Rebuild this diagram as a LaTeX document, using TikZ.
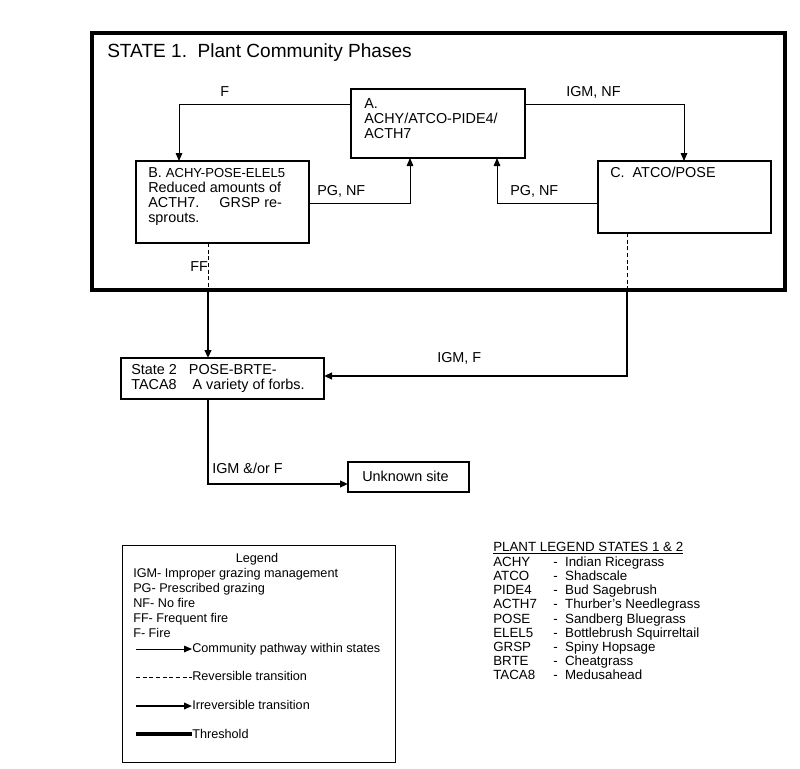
\documentclass[tikz,border=0pt]{standalone}
\usepackage{fontspec}
\setmainfont{Liberation Sans}
\usetikzlibrary{arrows.meta}
\tikzset{
  box/.style={draw, line width=0.8pt, inner sep=0pt},
  txt/.style={anchor=base west, inner sep=0pt, font=\fontsize{10.8}{12}\selectfont},
  lgd/.style={anchor=base west, inner sep=0pt, font=\fontsize{9.5}{11}\selectfont},
  pway/.style={line width=0.7pt, -{Triangle[length=6pt,width=5pt]}},
  irrev/.style={line width=1.6pt, -{Triangle[length=6pt,width=5pt]}},
  revers/.style={line width=0.6pt, dash pattern=on 3pt off 2pt},
}
\begin{document}
\begin{tikzpicture}[x=0.75pt,y=-0.75pt]
\useasboundingbox (0,0) rectangle (800,768);

% State 1
\draw[line width=2.4pt] (92,33) rectangle (785,290);
\node[txt, font=\fontsize{14.3}{16}\selectfont] (title) at (107,57) {STATE 1.\ \ Plant Community Phases};

% Phases
\draw[box] (351,89) rectangle (525,158);
\node[txt] at (364,108) {A.};
\node[txt] at (364,123) {ACHY/ATCO-PIDE4/};
\node[txt] at (364,138) {ACTH7};

\draw[box] (136,161) rectangle (309,243);
\node[txt] at (148,177) {B. \fontsize{9.8}{11}\selectfont ACHY-POSE-ELEL5};
\node[txt] at (148,192) {Reduced amounts of};
\node[txt] at (148,207) {ACTH7.\ \ \ \ \ GRSP re-};
\node[txt] at (148,222) {sprouts.};

\draw[box] (598,161) rectangle (771,233);
\node[txt] at (610,177) {C.\ \ ATCO/POSE};

% Pathways
\coordinate (aL) at (351,104);
\coordinate (aR) at (525,104);
\draw[pway] (aL) -| (179,161);
\draw[pway] (aR) -| (684,161);
\node[txt] at (220,96) {F};
\node[txt] at (566,96) {IGM, NF};
\draw[pway] (309,203) -| (410,158);
\draw[pway] (598,203) -| (497,158);
\node[txt] at (317,195) {PG, NF};
\node[txt] at (510,195) {PG, NF};

% Transitions
\draw[revers] (208,243) -- (208,290);
\draw[irrev] (208,290) -- (208,358);
\node[txt] at (190,271) {FF};
\draw[revers] (627,233) -- (627,290);
\draw[irrev] (627,290) |- (324,376);
\node[txt] at (437,362) {IGM, F};

% State 2
\draw[line width=1.4pt] (121,358) rectangle (324,399);
\node[txt] at (131,374) {State 2\ \ \ POSE-BRTE-};
\node[txt] at (131,389) {TACA8\ \ \ \ A variety of forbs.};
\draw[irrev] (208,399) |- (348,484);
\node[txt] at (212,473) {IGM \&/or F};
\draw[line width=1.4pt] (348,462) rectangle (469,492);
\node[txt] at (362,481) {Unknown site};

% Legend
\draw[line width=0.6pt] (122,545) rectangle (395,762);
\node[lgd, anchor=base] at (257,562) {Legend};
\node[lgd] at (133,577) {IGM- Improper grazing management};
\node[lgd] at (133,592) {PG- Prescribed grazing};
\node[lgd] at (133,607) {NF- No fire};
\node[lgd] at (133,622) {FF- Frequent fire};
\node[lgd] at (133,637) {F- Fire};
\draw[pway] (136,649) -- (192,649);
\node[lgd] at (192,652) {Community pathway within states};
\draw[revers] (136,677) -- (192,677);
\node[lgd] at (192,680) {Reversible transition};
\draw[irrev, line width=1.2pt] (136,706) -- (192,706);
\node[lgd] at (192,709) {Irreversible transition};
\draw[line width=2.8pt] (136,734) -- (192,734);
\node[lgd] at (192,738) {Threshold};

% Plant legend
\node[lgd, font=\fontsize{10}{12}\selectfont] at (493,551) {\underline{PLANT LEGEND STATES 1 \& 2}};
\foreach \code/\name [count=\i] in {ACHY/Indian Ricegrass, ATCO/Shadscale,
  PIDE4/Bud Sagebrush, ACTH7/Thurber’s Needlegrass, POSE/Sandberg Bluegrass,
  ELEL5/Bottlebrush Squirreltail, GRSP/Spiny Hopsage, BRTE/Cheatgrass,
  TACA8/Medusahead}{
  \node[lgd, font=\fontsize{10}{12}\selectfont] at (493,552+14.2*\i) {\code};
  \node[lgd, font=\fontsize{10}{12}\selectfont] at (553,552+14.2*\i) {-\ \ \name};
}
\end{tikzpicture}
\end{document}
